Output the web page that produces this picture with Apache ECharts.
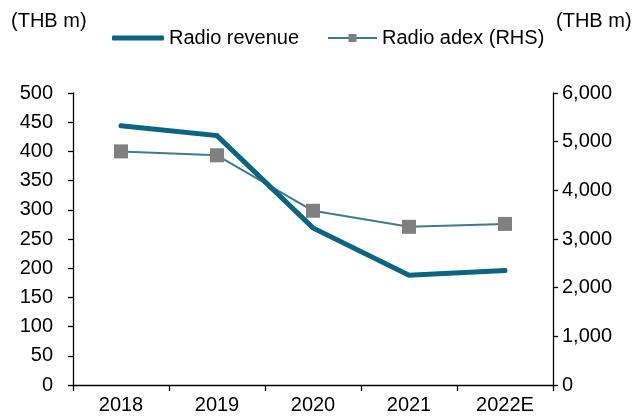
<!DOCTYPE html>
<html><head><meta charset="utf-8">
<script src="https://cdn.jsdelivr.net/npm/echarts@6/dist/echarts.min.js"></script>
<style>html,body{margin:0;padding:0;background:#fff}#c{width:644px;height:419px}</style>
</head><body><div id="c"></div>
<script>
var categories = ['2018', '2019', '2020', '2021', '2022E'];
var radioRevenue = [444, 427, 269, 188, 196];
var radioAdex = [4800, 4720, 3580, 3250, 3310];
var leftTicks = {min: 0, max: 500, interval: 50};
var rightTicks = {min: 0, max: 6000, interval: 1000};

var FONT = '"Liberation Sans", Arial, sans-serif';
var FS = 20;
var REV_COLOR = '#0A6482';
var ADEX_LINE = '#3E7C8C';
var chart = echarts.init(document.getElementById('c'), null, {renderer: 'canvas'});
chart.setOption({
  animation: false,
  backgroundColor: '#fff',
  textStyle: {fontFamily: FONT},
  grid: {left: 73, right: 91, top: 93, bottom: 34, containLabel: false},
  legend: [
    {data: [{name: 'Radio revenue', icon: 'roundRect'}], left: 107, top: 23, itemWidth: 52, itemHeight: 5,
     textStyle: {fontFamily: FONT, fontSize: FS, color: '#000'}},
    {data: ['Radio adex (RHS)'], left: 322, top: 23, itemWidth: 49, itemHeight: 10,
     textStyle: {fontFamily: FONT, fontSize: FS, color: '#000'}}
  ],
  graphic: [
    {type: 'text', left: 11, top: 11, style: {text: '(THB m)', font: FS + 'px ' + FONT, fill: '#000'}},
    {type: 'text', left: 556, top: 11, style: {text: '(THB m)', font: FS + 'px ' + FONT, fill: '#000'}}
  ],
  xAxis: {
    type: 'category', data: categories, boundaryGap: true,
    axisLine: {lineStyle: {color: '#000', width: 1.3}},
    axisTick: {show: true, length: 6, alignWithLabel: false, lineStyle: {color: '#000', width: 1.3}},
    axisLabel: {color: '#000', fontSize: FS, fontFamily: FONT, margin: 10},
    splitLine: {show: false}
  },
  yAxis: [
    {type: 'value', min: leftTicks.min, max: leftTicks.max, interval: leftTicks.interval,
     axisLine: {show: true, lineStyle: {color: '#000', width: 1.3}},
     axisTick: {show: true, length: 5, lineStyle: {color: '#000', width: 1.3}},
     axisLabel: {color: '#000', fontSize: FS, fontFamily: FONT, margin: 20},
     splitLine: {show: false}},
    {type: 'value', position: 'right', min: rightTicks.min, max: rightTicks.max, interval: rightTicks.interval,
     axisLine: {show: true, lineStyle: {color: '#000', width: 1.3}},
     axisTick: {show: true, length: 5, lineStyle: {color: '#000', width: 1.3}},
     axisLabel: {color: '#000', fontSize: FS, fontFamily: FONT, margin: 9,
       formatter: function (v) { return v.toLocaleString('en-US'); }},
     splitLine: {show: false}}
  ],
  series: [
    {name: 'Radio revenue', type: 'line', yAxisIndex: 0, data: radioRevenue,
     symbol: 'none', lineStyle: {color: REV_COLOR, width: 5, cap: 'round', join: 'miter'},
     itemStyle: {color: REV_COLOR}, z: 3},
    {name: 'Radio adex (RHS)', type: 'line', yAxisIndex: 1, data: radioAdex,
     symbol: 'rect', symbolSize: 14, lineStyle: {color: ADEX_LINE, width: 2},
     itemStyle: {color: '#808080'}, z: 2}
  ]
});
</script></body></html>
